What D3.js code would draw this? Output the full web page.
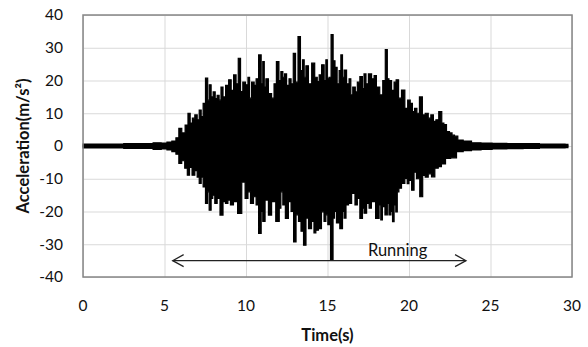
<!DOCTYPE html>
<html>
<head>
<meta charset="utf-8">
<script src="https://cdn.jsdelivr.net/npm/d3@7"></script>
<style>
  html, body { margin: 0; padding: 0; background: #fff; }
  svg { display: block; }
  text { font-family: Lato, "Open Sans", sans-serif; fill: #111; }
</style>
</head>
<body>
<div id="chart"></div>
<script>
// Axis ticks
const xTicks = [0, 5, 10, 15, 20, 25, 30];
const yTicks = [-40, -30, -20, -10, 0, 10, 20, 30, 40];

// Upper envelope of the acceleration record (time s, m/s²)
const upperTime = [0, 1, 2, 3, 4, 4.6, 5.0, 5.3, 5.6, 5.8, 5.96, 6.16, 6.37, 6.51, 6.64, 6.78, 6.94, 7.07, 7.19, 7.31,
  7.43, 7.6, 7.7, 7.8, 7.92, 8.05, 8.17, 8.29, 8.41, 8.52, 8.66, 8.84, 9.03, 9.15, 9.33, 9.45, 9.6, 9.73, 9.88, 10.05,
  10.19, 10.25, 10.44, 10.56, 10.68, 10.87, 10.99, 11.07, 11.17, 11.27, 11.48, 11.66, 11.78, 11.95, 12.09, 12.19, 12.33, 12.4, 12.58, 12.7,
  12.83, 12.97, 13.11, 13.27, 13.41, 13.52, 13.62, 13.73, 13.93, 14.13, 14.3, 14.44, 14.54, 14.74, 14.85, 14.95, 15.03, 15.15, 15.29, 15.4,
  15.52, 15.66, 15.77, 15.87, 15.97, 16.07, 16.27, 16.38, 16.48, 16.62, 16.79, 16.87, 17.1, 17.18, 17.3, 17.42, 17.6, 17.81, 17.91, 18.09,
  18.32, 18.46, 18.63, 18.71, 18.83, 19.03, 19.14, 19.28, 19.44, 19.64, 19.85, 19.99, 20.16, 20.26, 20.42, 20.55, 20.73, 20.91, 21.08, 21.28,
  21.4, 21.59, 21.71, 21.94, 22.08, 22.2, 22.4, 22.57, 22.71, 22.87, 23.12, 23.53, 24.14, 24.7, 25.5, 26.5, 27.5, 28.5, 29.4, 29.75];
const upperValue = [0.6, 0.6, 0.6, 0.7, 0.7, 1.0, 0.9, 1.2, 1.5, 2.5, 5.4, 4.0, 6.4, 10.0, 7.0, 8.5, 9.5, 8.0, 11.0, 9.0,
  13.0, 20.7, 14.0, 18.7, 15.0, 16.5, 14.5, 15.5, 14.0, 18.0, 15.0, 18.5, 20.2, 17.0, 21.7, 19.0, 26.8, 16.6, 19.5, 18.7,
  21.0, 14.6, 19.5, 18.5, 20.5, 27.8, 19.0, 25.8, 18.0, 20.5, 16.0, 14.6, 19.0, 25.8, 20.0, 22.7, 21.0, 22.0, 18.5, 20.5,
  19.0, 28.3, 19.5, 33.4, 23.0, 26.3, 21.0, 24.5, 19.0, 25.3, 21.0, 19.7, 21.7, 24.8, 20.0, 26.3, 20.5, 21.0, 34.0, 26.0,
  24.0, 19.0, 23.0, 27.8, 21.0, 23.2, 19.0, 20.5, 15.6, 18.0, 16.5, 19.5, 21.2, 17.5, 22.0, 19.0, 22.0, 20.5, 21.5, 18.0,
  15.6, 20.0, 29.4, 20.5, 20.0, 17.0, 19.5, 20.2, 14.6, 17.1, 11.5, 14.0, 13.0, 10.5, 11.5, 10.0, 15.0, 9.5, 10.0, 8.5,
  9.5, 7.5, 8.0, 10.5, 7.0, 6.5, 4.4, 4.0, 3.3, 3.0, 1.8, 1.5, 1.0, 0.9, 0.8, 0.7, 0.7, 0.6, 0.6, 0.5];

// Lower envelope of the acceleration record (time s, m/s²)
const lowerTime = [0, 1, 2, 3, 4, 4.6, 5.0, 5.3, 5.6, 5.8, 5.96, 6.15, 6.33, 6.47, 6.6, 6.78, 6.94, 7.07, 7.19, 7.31,
  7.43, 7.6, 7.68, 7.8, 7.92, 8.0, 8.17, 8.29, 8.52, 8.66, 8.82, 8.96, 9.13, 9.33, 9.64, 9.84, 10.05, 10.19, 10.36, 10.56,
  10.68, 10.87, 10.99, 11.07, 11.27, 11.48, 11.66, 11.99, 12.09, 12.19, 12.33, 12.5, 12.7, 12.83, 13.01, 13.13, 13.31, 13.44, 13.62, 13.74,
  13.93, 14.11, 14.23, 14.34, 14.54, 14.72, 14.85, 14.95, 15.09, 15.28, 15.4, 15.46, 15.64, 15.87, 15.97, 16.07, 16.2, 16.38, 16.58, 16.79,
  16.87, 17.1, 17.19, 17.3, 17.5, 17.6, 17.79, 18.11, 18.22, 18.32, 18.42, 18.63, 18.71, 18.83, 18.95, 19.03, 19.14, 19.24, 19.32, 19.44,
  19.64, 19.85, 19.93, 20.06, 20.26, 20.36, 20.55, 20.77, 20.91, 21.08, 21.28, 21.48, 21.69, 21.9, 22.08, 22.4, 22.71, 23.12, 23.53, 24.14,
  24.7, 25.5, 26.5, 27.5, 28.5, 29.4, 29.75];
const lowerValue = [-0.6, -0.6, -0.6, -0.7, -0.7, -1.0, -0.9, -1.2, -1.7, -2.5, -5.3, -4.5, -6.8, -8.9, -6.5, -8.9, -7.5, -9.5, -11.4, -9.5,
  -12.5, -17.5, -14.0, -19.6, -16.0, -15.0, -17.5, -16.0, -21.1, -17.0, -17.5, -16.5, -18.0, -17.0, -20.6, -11.0, -16.0, -14.0, -17.5, -15.5,
  -18.0, -26.7, -20.0, -23.0, -16.5, -21.1, -17.0, -23.0, -19.0, -14.0, -18.0, -22.1, -17.0, -20.0, -29.3, -21.0, -23.0, -26.0, -30.3, -22.0,
  -25.2, -23.0, -26.5, -25.7, -25.2, -20.1, -23.0, -21.0, -24.0, -34.9, -22.0, -20.0, -23.5, -25.2, -20.0, -22.0, -18.0, -17.5, -14.5, -18.0,
  -16.0, -22.1, -19.0, -20.5, -17.5, -19.0, -17.0, -22.1, -18.0, -22.6, -18.5, -21.0, -17.5, -21.0, -20.0, -23.1, -18.0, -20.1, -14.0, -12.9,
  -11.4, -9.9, -11.5, -10.5, -13.5, -8.0, -10.0, -15.5, -9.0, -9.5, -8.5, -9.4, -6.8, -6.3, -5.5, -3.8, -3.6, -1.7, -1.4, -1.2,
  -1.0, -0.9, -0.8, -0.7, -0.6, -0.6, -0.5];

// "Running" annotation: time span and level
const runningSpan = [5.5, 23.5];
const runningLevel = -35;

const width = 588, height = 347;
const margin = { top: 15, right: 16, bottom: 70, left: 83 };
const innerW = width - margin.left - margin.right;
const innerH = height - margin.top - margin.bottom;

const svg = d3.select('#chart').append('svg')
  .attr('width', width)
  .attr('height', height);

const g = svg.append('g')
  .attr('transform', `translate(${margin.left},${margin.top})`);

const x = d3.scaleLinear().domain([0, 30]).range([0, innerW]);
const y = d3.scaleLinear().domain([-40, 40]).range([innerH, 0]);

// Grid
g.append('g')
  .call(d3.axisLeft(y).tickValues(yTicks).tickSize(-innerW).tickFormat(() => ''))
  .call(s => s.select('.domain').remove())
  .selectAll('line').attr('stroke', '#d9d9d9').attr('stroke-width', 1);

g.append('g')
  .attr('transform', `translate(0,${innerH})`)
  .call(d3.axisBottom(x).tickValues(xTicks).tickSize(-innerH).tickFormat(() => ''))
  .call(s => s.select('.domain').remove())
  .selectAll('line').attr('stroke', '#d9d9d9').attr('stroke-width', 1);

// Signal envelopes, drawn as narrow steps so the peaks read as spikes
const upperData = upperTime.map((t, i) => [t, upperValue[i]]);
const lowerData = lowerTime.map((t, i) => [t, lowerValue[i]]);

const area = d3.area()
  .curve(d3.curveStep)
  .x(d => x(d[0]))
  .y0(y(0))
  .y1(d => y(d[1]));

[upperData, lowerData].forEach(data => {
  g.append('path')
    .datum(data)
    .attr('d', area)
    .attr('fill', '#000')
    .attr('stroke', '#000')
    .attr('stroke-width', 1.2);
});

// Plot frame
g.append('rect')
  .attr('width', innerW)
  .attr('height', innerH)
  .attr('fill', 'none')
  .attr('stroke', '#868686')
  .attr('stroke-width', 1.5);

// Tick labels
g.append('g')
  .selectAll('text')
  .data(yTicks)
  .join('text')
  .attr('x', -20)
  .attr('y', d => y(d))
  .attr('dy', '0.35em')
  .attr('text-anchor', 'end')
  .attr('font-size', 15.5)
  .text(d => d);

g.append('g')
  .selectAll('text')
  .data(xTicks)
  .join('text')
  .attr('x', d => x(d))
  .attr('y', innerH + 34)
  .attr('text-anchor', 'middle')
  .attr('font-size', 15.5)
  .text(d => d);

// Axis titles
svg.append('text')
  .attr('transform', `translate(29,${margin.top + y(0)}) rotate(-90)`)
  .attr('text-anchor', 'middle')
  .attr('font-size', 16.5)
  .attr('font-weight', 'bold')
  .text('Acceleration(m/s²)');

svg.append('text')
  .attr('x', margin.left + x(15))
  .attr('y', 341)
  .attr('text-anchor', 'middle')
  .attr('font-size', 16.5)
  .attr('font-weight', 'bold')
  .text('Time(s)');

// Running arrow
const ay = y(runningLevel);
const x0 = x(runningSpan[0]), x1 = x(runningSpan[1]);
const arrow = g.append('g').attr('stroke', '#222').attr('fill', 'none').attr('stroke-width', 1.2);
arrow.append('line').attr('x1', x0).attr('x2', x1).attr('y1', ay).attr('y2', ay);
arrow.append('path').attr('d', `M${x0 + 11},${ay - 6}L${x0},${ay}L${x0 + 11},${ay + 6}`);
arrow.append('path').attr('d', `M${x1 - 11},${ay - 6}L${x1},${ay}L${x1 - 11},${ay + 6}`);

g.append('text')
  .attr('x', x(19.3))
  .attr('y', ay - 5)
  .attr('text-anchor', 'middle')
  .attr('font-size', 16.5)
  .text('Running');
</script>
</body>
</html>
